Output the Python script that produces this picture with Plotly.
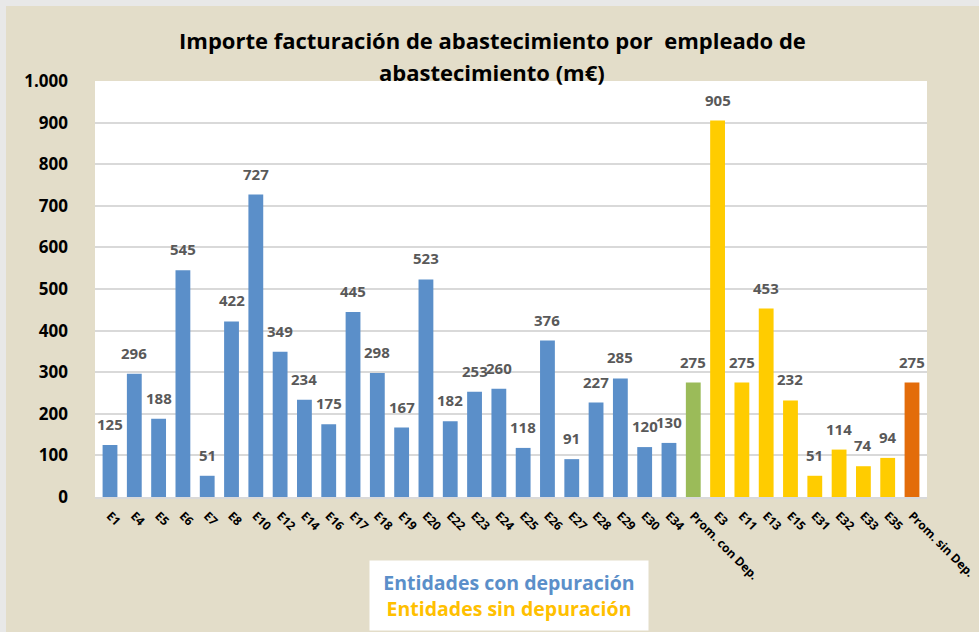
import plotly.graph_objects as go

categories = ["E1", "E4", "E5", "E6", "E7", "E8", "E10", "E12", "E14", "E16", "E17", "E18",
              "E19", "E20", "E22", "E23", "E24", "E25", "E26", "E27", "E28", "E29", "E30", "E34",
              "Prom. con Dep.", "E3", "E11", "E13", "E15", "E31", "E32", "E33", "E35", "Prom. sin Dep."]
values = [125, 296, 188, 545, 51, 422, 727, 349, 234, 175, 445, 298,
          167, 523, 182, 253, 260, 118, 376, 91, 227, 285, 120, 130,
          275, 905, 275, 453, 232, 51, 114, 74, 94, 275]
groups = ["con"] * 24 + ["prom_con"] + ["sin"] * 8 + ["prom_sin"]

group_colors = {"con": "#5B8FC9", "prom_con": "#9BBB59", "sin": "#FFCC00", "prom_sin": "#E36C0A"}
colors = [group_colors[g] for g in groups]

BG = "#E3DDC9"
L, R, T, B = 95, 52, 81, 135
W, H = 979, 632
PW, PH = W - L - R, H - T - B


def px(p):
    return (p - L) / PW


def py(q):
    return (H - B - q) / PH


fig = go.Figure()
fig.add_trace(go.Bar(
    x=categories, y=values, marker_color=colors, marker_line_width=0,
    showlegend=False, hoverinfo="x+y",
))

label_annotations = [
    dict(x=c, y=v, xref="x", yref="y", text=f"<b>{v}</b>", showarrow=False,
         xanchor="center", yanchor="bottom", yshift=9,
         font=dict(family="Open Sans", size=15, color="#595959"))
    for c, v in zip(categories, values)
]

fig.update_layout(
    width=W, height=H,
    margin=dict(l=L, r=R, t=T, b=B, autoexpand=False),
    paper_bgcolor=BG, plot_bgcolor="white",
    bargap=0.39,
    separators=",.",
    font=dict(family="Open Sans"),
    xaxis=dict(tickangle=45, tickfont=dict(family="Open Sans", size=12, color="black", weight="bold"),
               showline=True, linecolor="#D9D9D9", linewidth=2, ticks="", ticklabelstandoff=5,
               automargin=False),
    yaxis=dict(range=[0, 1000], dtick=100, tickformat=",d", showgrid=True, gridcolor="#D9D9D9",
               gridwidth=2, zeroline=False, ticklabelstandoff=26, automargin=False,
               tickfont=dict(family="Open Sans", size=17, color="black", weight="bold")),
    shapes=[
        dict(type="rect", xref="paper", yref="paper", x0=px(0), x1=px(W), y0=py(6), y1=py(0),
             fillcolor="#E8E8E8", line_width=0, layer="below"),
        dict(type="rect", xref="paper", yref="paper", x0=px(0), x1=px(6), y0=py(H), y1=py(0),
             fillcolor="#E8E8E8", line_width=0, layer="below"),
    ],
    annotations=label_annotations + [
        dict(text="<b>Importe facturación de abastecimiento por  empleado de</b>", xref="paper", yref="paper",
             x=px(492), y=py(40), xanchor="center", yanchor="middle", showarrow=False,
             font=dict(family="Open Sans", size=22, color="black")),
        dict(text="<b>abastecimiento (m€)</b>", xref="paper", yref="paper",
             x=px(492), y=py(72), xanchor="center", yanchor="middle", showarrow=False,
             font=dict(family="Open Sans", size=22, color="black")),
        dict(text="<b><span style='color:#5B8FC9'>Entidades con depuración</span><br>"
                  "<span style='color:#FFC000'>Entidades sin depuración</span></b>",
             xref="paper", yref="paper", x=px(509), y=py(595.5), xanchor="center", yanchor="middle",
             showarrow=False, bgcolor="white", width=276, height=67, align="center",
             font=dict(family="Open Sans", size=19.5)),
    ],
)

fig.write_html("out.html", config={"displayModeBar": False},
               post_script="document.body.style.margin='0';document.body.style.overflow='hidden';")
